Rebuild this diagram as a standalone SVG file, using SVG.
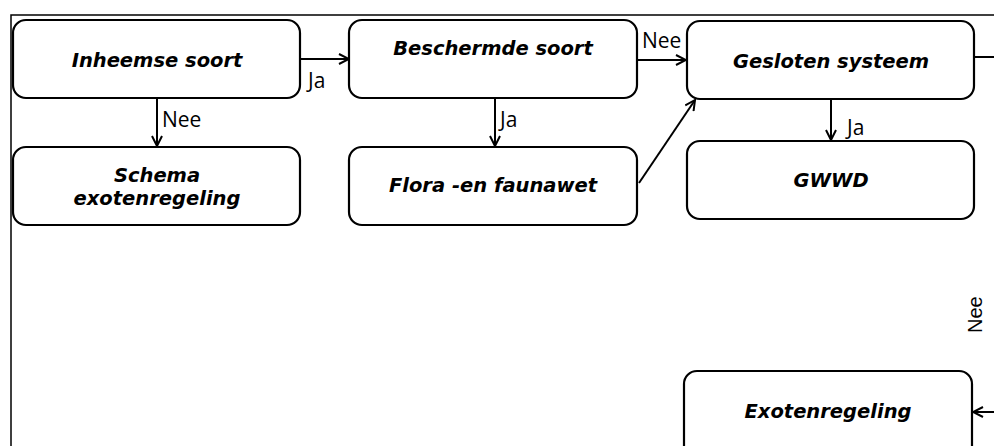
<svg xmlns="http://www.w3.org/2000/svg" width="994" height="446" viewBox="0 0 994 446">
<style>
.box{fill:#fff;stroke:#000;stroke-width:2.2}
.nt{font-family:"DejaVu Sans",Verdana,sans-serif;font-weight:bold;font-style:italic;font-size:19.5px;fill:#000;text-anchor:middle}
.lb{font-family:"Open Sans","Noto Sans",sans-serif;font-size:21px;fill:#000}
.ln{stroke:#000;stroke-width:2;fill:none}
</style>
<defs>
<marker id="ah" viewBox="0 0 12 12" refX="11" refY="6" markerWidth="12" markerHeight="12" markerUnits="userSpaceOnUse" orient="auto">
<path d="M1,1 L11,6 L1,11" fill="none" stroke="#000" stroke-width="2"/>
</marker>
</defs>
<rect width="994" height="446" fill="#fff"/>
<path d="M11,446 V15 H994" fill="none" stroke="#000" stroke-width="1.5"/>
<g id="connectors">
<line class="ln" x1="300" y1="59" x2="349" y2="59" marker-end="url(#ah)"/>
<line class="ln" x1="157" y1="98" x2="157" y2="146" marker-end="url(#ah)"/>
<line class="ln" x1="495" y1="98" x2="495" y2="146" marker-end="url(#ah)"/>
<line class="ln" x1="637" y1="60" x2="686" y2="60" marker-end="url(#ah)"/>
<line class="ln" x1="639" y1="183" x2="695" y2="100" marker-end="url(#ah)"/>
<line class="ln" x1="831" y1="99" x2="831" y2="140" marker-end="url(#ah)"/>
<line class="ln" x1="974" y1="57" x2="994" y2="57"/>
<line class="ln" x1="994" y1="412" x2="973" y2="412" marker-end="url(#ah)"/>
<text class="lb" x="308" y="88">Ja</text>
<text class="lb" x="162" y="127">Nee</text>
<text class="lb" x="500" y="127">Ja</text>
<text class="lb" x="642" y="48">Nee</text>
<text class="lb" x="847" y="135">Ja</text>
<text x="982" y="333" transform="rotate(-90 982 333)" style="font-family:'Liberation Sans',Arial,sans-serif;font-size:20px;fill:#000">Nee</text>
</g>
<g id="inheemse">
<rect class="box" x="13" y="20" width="287" height="78" rx="13"/>
<text class="nt" x="157" y="67">Inheemse soort</text>
</g>
<g id="schema">
<rect class="box" x="13" y="147" width="287" height="78" rx="13"/>
<text class="nt" x="157" y="182">Schema</text>
<text class="nt" x="157" y="205">exotenregeling</text>
</g>
<g id="beschermde">
<rect class="box" x="349" y="20" width="288" height="78" rx="13"/>
<text class="nt" x="493" y="55">Beschermde soort</text>
</g>
<g id="flora">
<rect class="box" x="349" y="147" width="288" height="78" rx="13"/>
<text class="nt" x="493" y="192">Flora -en faunawet</text>
</g>
<g id="gesloten">
<rect class="box" x="687" y="21" width="287" height="78" rx="13"/>
<text class="nt" x="831" y="68">Gesloten systeem</text>
</g>
<g id="gwwd">
<rect class="box" x="687" y="141" width="287" height="78" rx="13"/>
<text class="nt" x="831" y="187">GWWD</text>
</g>
<g id="exoten">
<rect class="box" x="684" y="371" width="288" height="100" rx="13"/>
<text class="nt" x="828" y="418">Exotenregeling</text>
</g>
</svg>
